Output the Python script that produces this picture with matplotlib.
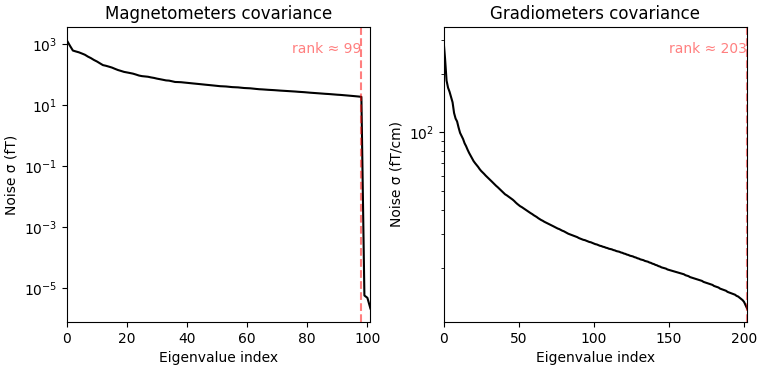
import numpy as np
import matplotlib
matplotlib.use('Agg')
import matplotlib.pyplot as plt
import matplotlib.transforms as mtransforms

# singular values (noise sigma)
mag_sigma = [
    1290, 870, 600, 560, 525, 480, 437, 380, 339, 295,
    263, 229, 200, 190, 178, 166, 151, 138, 129, 120,
    115, 110, 105, 98, 91, 87, 85, 83, 79, 76,
    72, 69, 66, 63, 62, 59, 56, 55.6, 55, 53.7,
    52.5, 51.3, 50.1, 49, 47.9, 46.8, 45.7, 44.7, 43.7, 42.7,
    41.7, 40.7, 40.3, 39.8, 38.9, 38.0, 37.6, 37.2, 36.3, 35.5,
    35.1, 34.7, 33.9, 33.1, 32.4, 32.0, 31.5, 31.0, 30.6, 30.2,
    29.7, 29.2, 28.8, 28.4, 28.0, 27.6, 27.2, 26.7, 26.3, 25.9,
    25.4, 24.9, 24.5, 24.1, 23.7, 23.3, 22.9, 22.6, 22.2, 21.8,
    21.4, 21.1, 20.7, 20.3, 19.9, 19.5, 19.1, 18.7, 18.2, 5.6e-6,
    4.7e-6, 2.1e-6,
]
mag_rank = 99

grad_sigma = [
    298, 240, 185, 170, 162, 152, 143, 126, 118, 114,
    106, 99.5, 96, 92.5, 88, 85, 81.5, 78.5, 76, 73.5,
    71.2, 69.5, 68, 66.5, 64.8, 63.4, 62.3, 61.2, 60, 59,
    58, 57, 56, 55, 54, 53.1, 52.3, 51.4, 50.6, 49.7,
    48.8, 48, 47.5, 46.9, 46.3, 45.7, 45.1, 44.4, 43.6, 42.9,
    42.3, 41.7, 41.3, 40.8, 40.3, 39.8, 39.3, 38.9, 38.4, 38.0,
    37.5, 37.1, 36.7, 36.2, 35.8, 35.4, 35.1, 34.7, 34.4, 34.1,
    33.8, 33.5, 33.2, 32.9, 32.6, 32.3, 32.0, 31.8, 31.5, 31.2,
    31.0, 30.7, 30.4, 30.1, 29.9, 29.7, 29.5, 29.3, 29.1, 28.9,
    28.6, 28.4, 28.2, 28.0, 27.9, 27.7, 27.5, 27.3, 27.2, 27.0,
    26.8, 26.6, 26.5, 26.3, 26.1, 26.0, 25.8, 25.7, 25.5, 25.4,
    25.2, 25.1, 25.0, 24.8, 24.7, 24.5, 24.4, 24.3, 24.1, 24.0,
    23.8, 23.7, 23.5, 23.4, 23.2, 23.1, 23.0, 22.8, 22.7, 22.5,
    22.4, 22.2, 22.1, 22.0, 21.8, 21.7, 21.6, 21.4, 21.3, 21.1,
    21.0, 20.8, 20.7, 20.5, 20.4, 20.2, 20.1, 20.0, 19.9, 19.7,
    19.6, 19.5, 19.4, 19.3, 19.2, 19.1, 19.0, 18.9, 18.8, 18.7,
    18.6, 18.4, 18.3, 18.2, 18.0, 17.9, 17.8, 17.7, 17.6, 17.5,
    17.4, 17.3, 17.2, 17.0, 16.9, 16.8, 16.7, 16.6, 16.5, 16.4,
    16.2, 16.1, 16.0, 15.9, 15.7, 15.6, 15.5, 15.4, 15.3, 15.1,
    15.0, 14.9, 14.8, 14.7, 14.6, 14.4, 14.3, 14.1, 13.9, 13.7,
    13.4, 12.9, 12.4,
]
grad_rank = 203

panels = [
    ('Magnetometers covariance', 'Noise σ (fT)', mag_sigma, mag_rank),
    ('Gradiometers covariance', 'Noise σ (fT/cm)', grad_sigma, grad_rank),
]

fig, axes = plt.subplots(1, 2, figsize=(7.6, 3.7), dpi=100)
fig.subplots_adjust(left=0.088, right=0.983, bottom=0.13, top=0.927, wspace=0.241)

for ax, (title, ylabel, s, rank) in zip(axes, panels):
    s = np.asarray(s)
    ax.plot(s, color='k')
    ax.set_yscale('log')
    ax.set_xlim([0, len(s) - 1])
    ax.axvline(rank - 1, color='r', alpha=0.5, linestyle='--')
    trans = mtransforms.blended_transform_factory(ax.transData, ax.transAxes)
    ax.text(rank - 1, 0.95, 'rank ≈ %d' % (rank,), ha='right', va='top',
            color='r', alpha=0.5, transform=trans)
    ax.set_title(title)
    ax.set_ylabel(ylabel)
    ax.set_xlabel('Eigenvalue index')

fig.savefig('out.png', dpi=100)
